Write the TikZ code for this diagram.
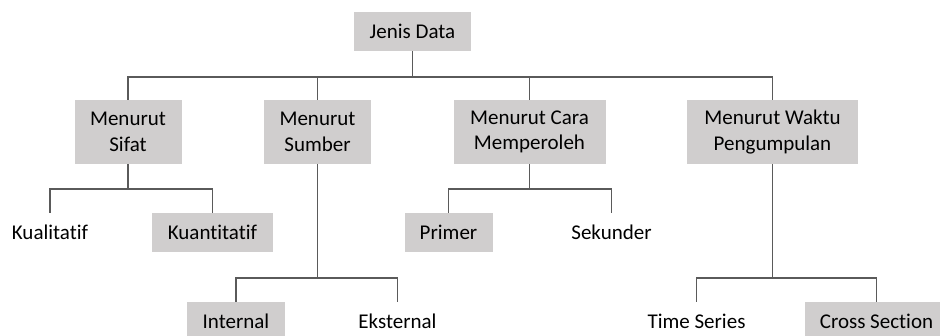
\documentclass[tikz,border=0pt]{standalone}
\usepackage{fontspec}
\setmainfont{Carlito}[Ligatures=NoCommon]
\usepackage{tikz}
\usetikzlibrary{positioning,calc}

\definecolor{boxgray}{RGB}{208,206,206}
\definecolor{linegray}{RGB}{90,90,90}

\begin{document}
\begin{tikzpicture}[
    x=1pt, y=-1pt,
    box/.style={
        fill=boxgray,
        align=center,
        inner sep=0pt,
        minimum height=39pt,
        font=\fontsize{21}{25.5}\selectfont
    },
    leaf/.style={
        align=center,
        inner sep=0pt,
        minimum height=39pt,
        font=\fontsize{21}{25.5}\selectfont
    },
    tall/.style={minimum height=64pt},
    link/.style={draw=linegray, line width=1.4pt}
]
\useasboundingbox (0,0) rectangle (940,335);

\node[box, minimum width=117pt] (jenis) at (412.5,31.5) {Jenis Data};

\node[box, tall, minimum width=107pt] (sifat) at (128,132) {Menurut\\Sifat};
\node[box, tall, minimum width=107pt] (sumber) at (317.5,132) {Menurut\\Sumber};
\node[box, tall, minimum width=152pt] (cara) at (529.5,132) {Menurut Cara\\Memperoleh};
\node[box, tall, minimum width=171pt] (waktu) at (772.5,132) {Menurut Waktu\\Pengumpulan};

\node[leaf] (kualitatif) at (50,232.5) {Kualitatif};
\node[box, minimum width=121pt] (kuantitatif) at (212.5,232.5) {Kuantitatif};
\node[box, minimum width=88pt] (primer) at (448.5,232.5) {Primer};
\node[leaf] (sekunder) at (611.5,232.5) {Sekunder};

\node[box, minimum width=98pt] (internal) at (236,321.5) {Internal};
\node[leaf] (eksternal) at (397.5,321.5) {Eksternal};
\node[leaf] (timeseries) at (696.5,321.5) {Time Series};
\node[box, minimum width=143pt] (crosssection) at (876.5,321.5) {Cross Section};

% level 1
\draw[link] (jenis.south) -- (jenis.south |- 0,77);
\draw[link] (sifat.north) |- (waktu.north |- 0,77) -- (waktu.north);
\draw[link] (sumber.north) -- (sumber.north |- 0,77);
\draw[link] (cara.north) -- (cara.north |- 0,77);

% level 2
\draw[link] (sifat.south) -- (sifat.south |- 0,189);
\draw[link] (kualitatif.north) |- (kuantitatif.north |- 0,189) -- (kuantitatif.north);
\draw[link] (cara.south) -- (cara.south |- 0,189);
\draw[link] (primer.north) |- (sekunder.north |- 0,189) -- (sekunder.north);

\draw[link] (sumber.south) -- (sumber.south |- 0,278);
\draw[link] (internal.north) |- (eksternal.north |- 0,278) -- (eksternal.north);
\draw[link] (waktu.south) -- (waktu.south |- 0,278);
\draw[link] (timeseries.north) |- (crosssection.north |- 0,278) -- (crosssection.north);

\end{tikzpicture}
\end{document}
